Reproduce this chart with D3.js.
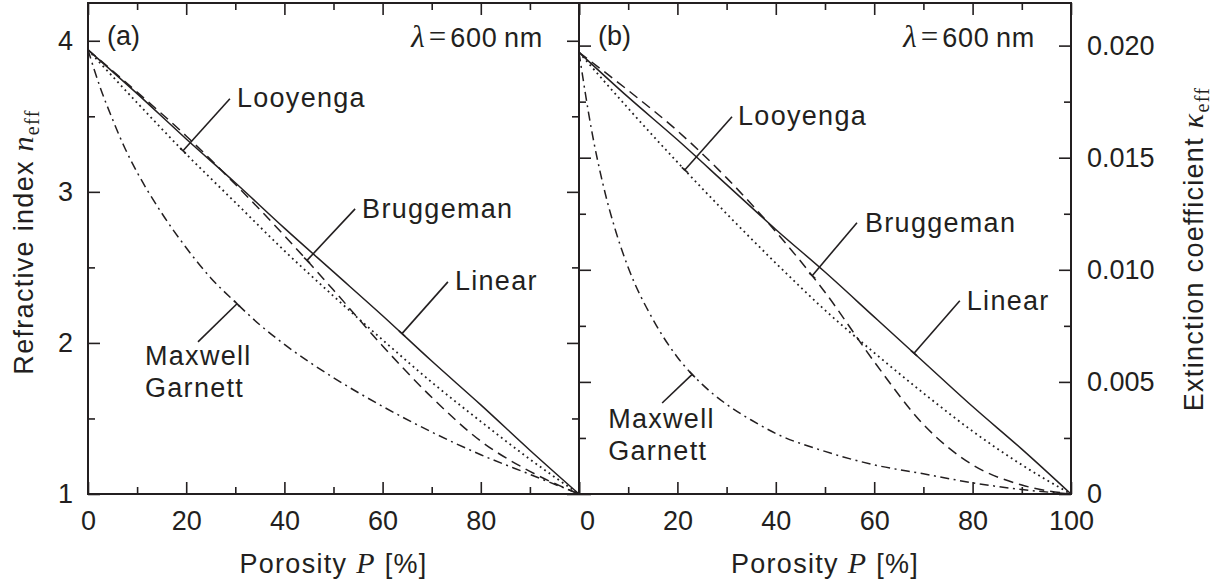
<!DOCTYPE html>
<html>
<head>
<meta charset="utf-8">
<script src="https://cdn.jsdelivr.net/npm/d3@7"></script>
<style>
  body { margin: 0; background: #fff; }
  svg text { font-family: "Liberation Sans", Arial, Helvetica, sans-serif; fill: #231f20; }
  .word { letter-spacing: 1.3px; }
</style>
</head>
<body>
<svg id="chart" width="1228" height="585"></svg>
<script>
// Porosity grid (%) and effective optical constants of porous silicon at 600 nm
const porosity   = [0, 10, 20, 30, 40, 50, 60, 70, 80, 90, 100];
const porosityMG = [0, 2.5, 5, 7.5, 10, 15, 20, 25, 30, 35, 40, 50, 60, 70, 80, 90, 100];

// Refractive index n_eff
const nLinear    = [3.94, 3.65, 3.35, 3.06, 2.76, 2.47, 2.18, 1.88, 1.59, 1.29, 1.00];
const nLooyenga  = [3.94, 3.59, 3.25, 2.93, 2.61, 2.31, 2.02, 1.74, 1.48, 1.23, 1.00];
const nBruggeman = [3.94, 3.66, 3.37, 3.05, 2.71, 2.35, 1.98, 1.64, 1.35, 1.15, 1.00];
const nMaxwellGarnett = [3.94, 3.69, 3.48, 3.29, 3.13, 2.86, 2.63, 2.43, 2.27, 2.12, 1.99,
                         1.77, 1.58, 1.41, 1.26, 1.13, 1.00];

// Extinction coefficient kappa_eff
const kLinear    = [0.0197, 0.0177, 0.0158, 0.0138, 0.0118, 0.0099, 0.0079, 0.0059, 0.0039, 0.0020, 0];
const kLooyenga  = [0.0197, 0.0172, 0.0148, 0.0125, 0.0103, 0.0082, 0.0063, 0.0045, 0.0028, 0.0013, 0];
const kBruggeman = [0.0197, 0.0180, 0.0162, 0.0141, 0.0117, 0.0090, 0.0059, 0.0031, 0.0013, 0.0004, 0];
const kMaxwellGarnett = [0.0197, 0.0163, 0.0137, 0.0117, 0.0101, 0.0078, 0.0061, 0.0049, 0.0040,
                         0.0033, 0.0027, 0.0019, 0.0013, 0.0009, 0.0005, 0.0002, 0];

// Tick values
const xTicksMajor = [0, 20, 40, 60, 80, 100];
const xTicksMinor = [10, 30, 50, 70, 90];
const nTicksMajor = [1, 2, 3, 4];
const nTicksMinor = [1.5, 2.5, 3.5];
const kTicksMajor = [0, 0.005, 0.010, 0.015, 0.020];
const kTicksMinor = [0.0025, 0.0075, 0.0125, 0.0175];

const ink = "#231f20";
const serif = '"Liberation Serif", "Times New Roman", serif';
const svg = d3.select("#chart");

const plotTop = 3, plotBottom = 494;
const panelA = { x: d3.scaleLinear([0, 100], [88, 579]),   y: d3.scaleLinear([1, 4.25], [plotBottom, plotTop]) };
const panelB = { x: d3.scaleLinear([0, 100], [579, 1071]), y: d3.scaleLinear([0, 0.0219], [plotBottom, plotTop]) };

const styles = {
  Linear:    { dash: null,       width: 1.5 },
  Looyenga:  { dash: "1.8,3.6",  width: 1.8 },
  Bruggeman: { dash: "10,6",     width: 1.5 },
  MG:        { dash: "9,4.5,2,4.5", width: 1.5 }
};

function styleAxis(g) {
  g.select(".domain").remove();
  g.selectAll(".tick line").attr("stroke", ink).attr("stroke-width", 1.6);
  g.selectAll(".tick text").attr("font-size", 27).attr("fill", ink)
    .attr("font-family", '"Liberation Sans", Arial, sans-serif');
}

function drawAxes(p, opts) {
  const g = svg.append("g");
  const [x0, x1] = p.x.range();
  // bottom
  g.append("g").attr("transform", `translate(0,${plotBottom})`)
    .call(d3.axisBottom(p.x).tickValues(xTicksMajor).tickSize(-12).tickPadding(17)
      .tickFormat(d => (opts.hideX100 && d === 100) ? "" : d3.format("d")(d)))
    .call(styleAxis)
    .call(a => { if (opts.shiftZero) a.selectAll(".tick text").filter(d => d === 0).attr("dx", 8); });
  g.append("g").attr("transform", `translate(0,${plotBottom})`)
    .call(d3.axisBottom(p.x).tickValues(xTicksMinor).tickSize(-7).tickFormat(""))
    .call(styleAxis);
  // top
  g.append("g").attr("transform", `translate(0,${plotTop})`)
    .call(d3.axisTop(p.x).tickValues(xTicksMajor).tickSize(-12).tickFormat(""))
    .call(styleAxis);
  g.append("g").attr("transform", `translate(0,${plotTop})`)
    .call(d3.axisTop(p.x).tickValues(xTicksMinor).tickSize(-7).tickFormat(""))
    .call(styleAxis);
  // left
  g.append("g").attr("transform", `translate(${x0},0)`)
    .call(d3.axisLeft(p.y).tickValues(opts.major).tickSize(-12).tickPadding(15)
      .tickFormat(opts.leftLabels ? opts.fmt : ""))
    .call(styleAxis);
  g.append("g").attr("transform", `translate(${x0},0)`)
    .call(d3.axisLeft(p.y).tickValues(opts.minor).tickSize(-7).tickFormat(""))
    .call(styleAxis);
  // right
  g.append("g").attr("transform", `translate(${x1},0)`)
    .call(d3.axisRight(p.y).tickValues(opts.major).tickSize(-12).tickPadding(16)
      .tickFormat(opts.rightLabels ? opts.fmt : ""))
    .call(styleAxis);
  g.append("g").attr("transform", `translate(${x1},0)`)
    .call(d3.axisRight(p.y).tickValues(opts.minor).tickSize(-7).tickFormat(""))
    .call(styleAxis);
  // frame
  g.append("rect").attr("x", x0).attr("y", plotTop).attr("width", x1 - x0).attr("height", plotBottom - plotTop)
    .attr("fill", "none").attr("stroke", ink).attr("stroke-width", 2);
}

function drawSeries(p, series) {
  const paths = {};
  const line = d3.line().x(d => p.x(d[0])).y(d => p.y(d[1])).curve(d3.curveMonotoneX);
  series.forEach(s => {
    const pts = s.P.map((P, i) => [P, s.v[i]]);
    paths[s.key] = svg.append("path").datum(pts)
      .attr("d", line).attr("fill", "none").attr("stroke", ink)
      .attr("stroke-width", styles[s.key].width)
      .attr("stroke-dasharray", styles[s.key].dash)
      .node();
  });
  return paths;
}

// point on a drawn curve at the given x pixel (path x grows monotonically)
function pointAt(path, px) {
  const L = path.getTotalLength();
  let lo = 0, hi = L;
  for (let i = 0; i < 40; i++) {
    const mid = (lo + hi) / 2;
    if (path.getPointAtLength(mid).x < px) lo = mid; else hi = mid;
  }
  const q = path.getPointAtLength((lo + hi) / 2);
  return [q.x, q.y];
}

function annotate(p, paths, a) {
  const [ex, ey] = pointAt(paths[a.key], p.x(a.targetP));
  const sx = p.x(a.startP), sy = p.y(a.startV);
  const g = svg.append("g");
  g.append("line").attr("x1", sx).attr("y1", sy).attr("x2", ex).attr("y2", ey)
    .attr("stroke", ink).attr("stroke-width", 1.6);
  // short cross bar at the curve end
  const dx = ex - sx, dy = ey - sy, len = Math.hypot(dx, dy);
  const nx = -dy / len * 4, ny = dx / len * 4;
  g.append("line").attr("x1", ex - nx).attr("y1", ey - ny).attr("x2", ex + nx).attr("y2", ey + ny)
    .attr("stroke", ink).attr("stroke-width", 1.6);
  a.lines.forEach((t, i) => {
    g.append("text").attr("class", "word").attr("x", sx + a.off[0]).attr("y", sy + a.off[1] + i * 32)
      .attr("font-size", 27).text(t);
  });
}

function mathLabel(sel, word, sym) {
  sel.append("tspan").text(word);
  sel.append("tspan").attr("font-family", serif)
    .attr("font-style", "italic").attr("font-size", 30).text(sym);
  sel.append("tspan").attr("font-family", serif)
    .attr("font-size", 20).attr("dy", 6).text("eff");
}

// ---------- Panel (a): refractive index ----------
drawAxes(panelA, { major: nTicksMajor, minor: nTicksMinor, leftLabels: true, rightLabels: false,
  fmt: d3.format("d"), hideX100: true });
const pathsA = drawSeries(panelA, [
  { key: "Linear", P: porosity, v: nLinear },
  { key: "Looyenga", P: porosity, v: nLooyenga },
  { key: "Bruggeman", P: porosity, v: nBruggeman },
  { key: "MG", P: porosityMG, v: nMaxwellGarnett }
]);
[
  { key: "Looyenga",  startP: 28.9, startV: 3.616, targetP: 19.35, off: [7, 8],  lines: ["Looyenga"] },
  { key: "Bruggeman", startP: 54.4, startV: 2.887, targetP: 44.6,  off: [7, 9],  lines: ["Bruggeman"] },
  { key: "Linear",    startP: 73.3, startV: 2.404, targetP: 63.95, off: [7, 8],  lines: ["Linear"] },
  { key: "MG",        startP: 22.4, startV: 2.007, targetP: 30.35, off: [-53, 23], lines: ["Maxwell", "Garnett"] }
].forEach(a => annotate(panelA, pathsA, a));

// ---------- Panel (b): extinction coefficient ----------
const kFmt = d => d === 0 ? "0" : d3.format(".3f")(d);
drawAxes(panelB, { major: kTicksMajor, minor: kTicksMinor, leftLabels: false, rightLabels: true,
  fmt: kFmt, shiftZero: true });
const pathsB = drawSeries(panelB, [
  { key: "Linear", P: porosity, v: kLinear },
  { key: "Looyenga", P: porosity, v: kLooyenga },
  { key: "Bruggeman", P: porosity, v: kBruggeman },
  { key: "MG", P: porosityMG, v: kMaxwellGarnett }
]);
[
  { key: "Looyenga",  startP: 31.1, startV: 0.01683, targetP: 21.5, off: [6, 8],  lines: ["Looyenga"] },
  { key: "Bruggeman", startP: 56.5, startV: 0.01210, targetP: 47.4, off: [8, 9],  lines: ["Bruggeman"] },
  { key: "Linear",    startP: 77.4, startV: 0.00862, targetP: 68.1, off: [7, 9],  lines: ["Linear"] },
  { key: "MG",        startP: 16.9, startV: 0.00406, targetP: 23.0, off: [-54, 25], lines: ["Maxwell", "Garnett"] }
].forEach(a => annotate(panelB, pathsB, a));

// ---------- Panel tags and wavelength ----------
[["(a)", 107], ["(b)", 598]].forEach(([t, x]) =>
  svg.append("text").attr("x", x).attr("y", 45).attr("font-size", 27).text(t));

[543, 1035].forEach(xEnd => {
  const t = svg.append("text").attr("x", xEnd).attr("y", 47).attr("text-anchor", "end").attr("font-size", 27);
  t.append("tspan").attr("font-family", serif).attr("font-style", "italic")
    .attr("font-size", 31).text("λ");
  t.append("tspan").attr("font-family", serif).attr("font-size", 31).attr("dx", 4).text("=");
  t.append("tspan").attr("dx", 4).attr("letter-spacing", 0.8).text("600\u2009nm");
});

// ---------- Axis titles ----------
[333.5, 825].forEach(cx => {
  const t = svg.append("text").attr("class", "word").attr("x", cx).attr("y", 573)
    .attr("text-anchor", "middle").attr("font-size", 27);
  t.append("tspan").text("Porosity ");
  t.append("tspan").attr("font-family", serif).attr("font-style", "italic")
    .attr("font-size", 30).text("P");
  t.append("tspan").text(" [%]");
});

const yTitleL = svg.append("text").attr("class", "word").attr("transform", "translate(33,242) rotate(-90)")
  .attr("text-anchor", "middle").attr("font-size", 27);
mathLabel(yTitleL, "Refractive index ", "n");

const yTitleR = svg.append("text").attr("class", "word").attr("transform", "translate(1203,249) rotate(-90)")
  .attr("text-anchor", "middle").attr("font-size", 27);
mathLabel(yTitleR, "Extinction coefficient ", "κ");
</script>
</body>
</html>
